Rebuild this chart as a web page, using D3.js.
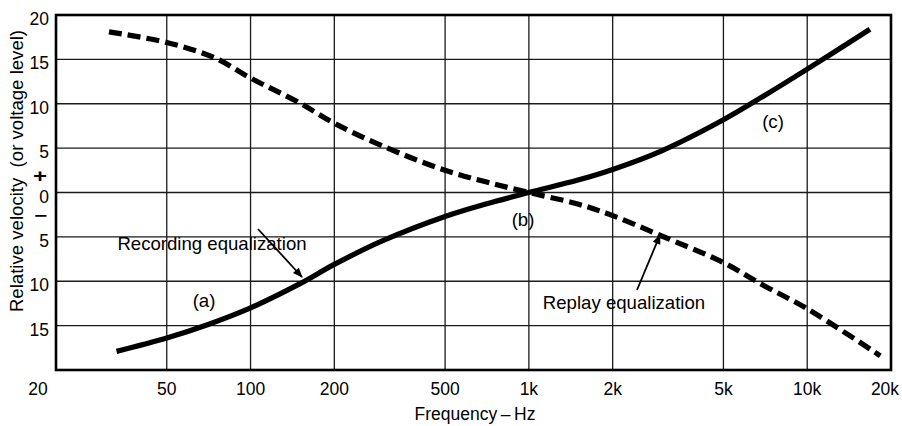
<!DOCTYPE html>
<html>
<head>
<meta charset="utf-8">
<script src="https://cdn.jsdelivr.net/npm/d3@7"></script>
<style>
  html, body { margin: 0; padding: 0; background: #fff; }
  svg { display: block; }
  text { font-family: "Liberation Sans", Arial, Helvetica, sans-serif; fill: #000; }
</style>
</head>
<body>
<svg id="chart" width="902" height="426"></svg>
<script>
// ---- data ----
const recFreq = [33, 50, 70, 100, 150, 200, 300, 500, 700, 1000, 1500, 2000, 3000, 5000, 7000, 10000, 16800];
const recDb   = [-17.9, -16.4, -14.9, -13.0, -10.3, -8.1, -5.4, -2.7, -1.3, 0, 1.4, 2.6, 4.7, 8.2, 10.9, 13.9, 18.4];
const repFreq = [31, 50, 74, 100, 150, 200, 300, 500, 700, 1000, 1500, 2000, 3000, 5000, 7000, 10000, 18300];
const repDb   = [18.1, 16.9, 15.2, 12.9, 10.1, 7.8, 5.2, 2.5, 1.2, 0, -1.3, -2.6, -4.9, -7.9, -10.5, -13.1, -18.4];
const xGridFreqs = [50, 100, 200, 500, 1000, 2000, 5000, 10000];
const xTickFreqs = [50, 100, 200, 500, 1000, 2000, 5000, 10000, 20000];
const xTickLabels = ["50", "100", "200", "500", "1k", "2k", "5k", "10k", "20k"];
const yGridVals = [-15, -10, -5, 0, 5, 10, 15];
const yTickVals = [20, 15, 10, 5, 0, -5, -10, -15];
const yTickLabels = ["20", "15", "10", "5", "0", "5", "10", "15"];

// ---- layout ----
const svg = d3.select("#chart");
const L = 56, R = 891, T = 15, B = 370;
const x = d3.scaleLog().domain([20, 20000]).range([L, R]);
const y = d3.scaleLinear().domain([-20, 20]).range([B, T]);

// grid
svg.append("g").selectAll("line").data(xGridFreqs).join("line")
  .attr("x1", d => x(d)).attr("x2", d => x(d)).attr("y1", T).attr("y2", B)
  .attr("stroke", "#1a1a1a").attr("stroke-width", 1.3);
svg.append("g").selectAll("line").data(yGridVals).join("line")
  .attr("x1", L).attr("x2", R).attr("y1", d => y(d)).attr("y2", d => y(d))
  .attr("stroke", "#1a1a1a").attr("stroke-width", 1.3);

// border
svg.append("rect").attr("x", L).attr("y", T).attr("width", R - L).attr("height", B - T)
  .attr("fill", "none").attr("stroke", "#000").attr("stroke-width", 2.6);

// x tick labels
svg.append("g").selectAll("text").data(xTickFreqs).join("text")
  .attr("x", (d, i) => i === xTickFreqs.length - 1 ? x(d) - 6 : x(d))
  .attr("y", 395)
  .attr("text-anchor", "middle")
  .attr("font-size", 17.5)
  .text((d, i) => xTickLabels[i]);
// shared "20" at bottom-left corner (20 Hz / -20)
svg.append("text").attr("x", x(20) - 18).attr("y", 395)
  .attr("text-anchor", "middle").attr("font-size", 17.5).text("20");

// y tick labels
svg.append("g").selectAll("text").data(yTickVals).join("text")
  .attr("x", 49)
  .attr("y", d => y(d) + 4)
  .attr("dominant-baseline", "central")
  .attr("text-anchor", "end")
  .attr("font-size", 17.5)
  .text((d, i) => yTickLabels[i]);
// sign markers between the 0 label and its neighbours
svg.append("text").attr("x", 33).attr("y", 182)
  .attr("font-size", 19).attr("font-weight", "bold")
  .attr("textLength", 14).attr("lengthAdjust", "spacingAndGlyphs").text("+");
svg.append("text").attr("x", 34).attr("y", 221)
  .attr("font-size", 16).attr("font-weight", "bold")
  .attr("textLength", 13).attr("lengthAdjust", "spacingAndGlyphs").text("\u2212");

// axis titles
svg.append("text")
  .attr("transform", `translate(23, ${171}) rotate(-90)`)
  .attr("text-anchor", "middle")
  .attr("font-size", 18.6)
  .attr("xml:space", "preserve")
  .text("Relative velocity  (or voltage level)");
svg.append("text").attr("x", 475).attr("y", 420)
  .attr("text-anchor", "middle").attr("font-size", 17.5)
  .text("Frequency\u2009\u2013\u2009Hz");

// curves
const line = d3.line().curve(d3.curveCatmullRom.alpha(0.5)).x(d => x(d[0])).y(d => y(d[1]));
const recData = recFreq.map((f, i) => [f, recDb[i]]);
const repData = repFreq.map((f, i) => [f, repDb[i]]);

svg.append("path").datum(repData).attr("d", line)
  .attr("fill", "none").attr("stroke", "#000").attr("stroke-width", 5.2)
  .attr("stroke-dasharray", "13,6");
svg.append("path").datum(recData).attr("d", line)
  .attr("fill", "none").attr("stroke", "#000").attr("stroke-width", 5.2)
  .attr("stroke-linecap", "butt");

// arrow marker
svg.append("defs").append("marker")
  .attr("id", "arr").attr("viewBox", "0 0 10 10").attr("refX", 9).attr("refY", 5)
  .attr("markerWidth", 13).attr("markerHeight", 10).attr("markerUnits", "userSpaceOnUse")
  .attr("orient", "auto")
  .append("path").attr("d", "M0,1 L10,5 L0,9 Z").attr("fill", "#000");

// annotations
svg.append("text").attr("x", 212).attr("y", 243).attr("dominant-baseline", "central")
  .attr("text-anchor", "middle").attr("font-size", 18.6).text("Recording equalization");
svg.append("line").attr("x1", 258).attr("y1", 229).attr("x2", 302).attr("y2", 277)
  .attr("stroke", "#000").attr("stroke-width", 1.8).attr("marker-end", "url(#arr)");

svg.append("text").attr("x", 624).attr("y", 302).attr("dominant-baseline", "central")
  .attr("text-anchor", "middle").attr("font-size", 18.6).text("Replay equalization");
svg.append("line").attr("x1", 637).attr("y1", 290).attr("x2", 660).attr("y2", 235)
  .attr("stroke", "#000").attr("stroke-width", 1.8).attr("marker-end", "url(#arr)");

svg.append("text").attr("x", 204).attr("y", 300).attr("dominant-baseline", "central")
  .attr("text-anchor", "middle").attr("font-size", 18.6).text("(a)");
svg.append("text").attr("x", 523).attr("y", 219).attr("dominant-baseline", "central")
  .attr("text-anchor", "middle").attr("font-size", 18.6).text("(b)");
svg.append("text").attr("x", 773).attr("y", 121).attr("dominant-baseline", "central")
  .attr("text-anchor", "middle").attr("font-size", 18.6).text("(c)");
</script>
</body>
</html>
